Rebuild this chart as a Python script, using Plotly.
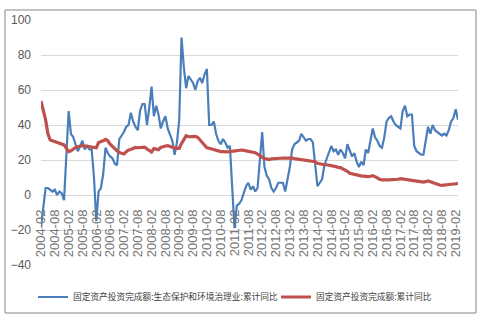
import plotly.graph_objects as go

# Monthly categories 2004-02 .. 2019-03
months = []
for yr in range(2004, 2020):
    for m in range(1, 13):
        if (yr == 2004 and m < 2) or (yr == 2019 and m > 3):
            continue
        months.append(f"{yr}-{m:02d}")

eco_env = [
    -18, -7, 4, 4, 3, 2, 3, 0, 2, 1, -3, 22,
    48, 35, 33, 29, 25, 28, 31, 26, 28, 26, 26, 10,
    -15, 2, 4, 12, 27, 24, 22, 21, 18, 17, 32, 34,
    36, 39, 40, 47, 42, 39, 37, 48, 52, 52, 40, 50,
    62, 45, 51, 46, 38, 42, 45, 38, 34, 31, 23, 30,
    43, 90, 73, 61, 68, 66, 64, 60, 65, 67, 64, 69,
    72, 40, 40, 42, 35, 31, 29, 32, 30, 27, 28, 4,
    -19, -6, -5, -3, 1, 5, 7, 3, 5, 2, 4, 20,
    36, 16, 11, 9, 4, 2, 4, 7, 7, 7, 2, 9,
    16, 26, 29, 30, 31, 35, 33, 31, 32, 32, 30, 16,
    5, 7, 9, 17, 21, 25, 28, 25, 26, 23, 26, 24,
    21, 29, 25, 22, 24, 19, 16, 19, 17, 26, 24, 30,
    38, 33, 31, 28, 27, 33, 42, 44, 45, 42, 40, 39,
    38, 48, 51, 45, 46, 46, 28, 25, 24, 23, 23, 30,
    39, 35, 40, 37, 36, 35, 34, 35, 34, 37, 42, 44,
    49, 43,
]

total = [
    53.7, 48.6, 42.9, 35.0, 31.4, 31.0, 30.5, 30.0, 29.5, 29.0, 28.6, 26.7,
    24.8, 25.3, 26.3, 27.2, 27.6, 28.0, 28.2, 28.0, 28.0, 27.6, 27.4, 27.0,
    27.0, 30.0, 30.3, 31.0, 31.8, 31.0, 29.0, 27.6, 26.5, 25.3, 24.2, 23.8,
    23.4, 24.8, 25.7, 26.0, 26.7, 27.2, 27.0, 27.0, 27.0, 27.4, 26.3, 25.3,
    24.6, 26.5, 26.0, 25.9, 27.2, 27.8, 28.0, 28.2, 27.6, 27.2, 26.9, 26.7,
    26.7, 29.5, 31.8, 33.9, 33.3, 33.5, 33.3, 33.5, 33.0, 31.4, 29.5, 28.0,
    27.0, 26.7, 26.3, 25.9, 25.3, 25.0, 24.8, 24.8, 24.6, 24.6, 24.8, 25.0,
    25.0, 25.3, 25.5, 25.7, 25.5, 25.3, 25.1, 25.0, 24.8, 24.2, 23.4, 22.3,
    21.5, 20.8, 20.4, 20.2, 20.6, 20.6, 20.6, 20.8, 21.0, 21.1, 21.1, 21.3,
    21.5, 21.1, 20.8, 20.6, 20.4, 20.2, 20.2, 20.2, 20.0, 19.8, 19.6, 19.0,
    18.1, 17.7, 17.5, 17.3, 17.3, 17.1, 16.8, 16.4, 16.2, 15.8, 15.7, 14.9,
    14.3, 13.5, 12.4, 12.0, 12.0, 11.6, 11.2, 10.9, 10.7, 10.5, 10.5, 10.7,
    11.0, 10.5, 9.6, 9.0, 8.6, 8.4, 8.6, 8.6, 8.6, 8.8, 8.6, 9.0,
    9.3, 9.1, 9.0, 8.8, 8.6, 8.4, 8.0, 7.8, 7.6, 7.4, 7.4, 7.6,
    8.0, 7.6, 7.0, 6.5, 6.1, 5.7, 5.5, 5.7, 6.1, 6.1, 6.3, 6.3,
    6.3, 6.7,
]

name_eco = "固定资产投资完成额:生态保护和环境治理业:累计同比"
name_total = "固定资产投资完成额:累计同比"

tick_labels = months[::6]

fig = go.Figure()
fig.add_trace(go.Scatter(x=months, y=eco_env, mode="lines", name=name_eco,
                         line=dict(color="#4A7EBB", width=2.2), legend="legend"))
fig.add_trace(go.Scatter(x=months, y=total, mode="lines", name=name_total,
                         line=dict(color="#C0504D", width=3.2), legend="legend2"))

W, H = 484, 324
ml, mr, mt, mb = 41, 26, 20, 59
pw, ph = W - ml - mr, H - mt - mb

def px_x(p):
    return (p - ml) / pw

def px_y(p):
    return (H - mb - p) / ph

ymin, ymax = -40, 100
legend_font = dict(family="Noto Sans CJK SC", size=8.7, color="#404040")

fig.update_layout(
    width=W, height=H,
    margin=dict(l=ml, r=mr, t=mt, b=mb),
    paper_bgcolor="white", plot_bgcolor="white",
    font=dict(family="Liberation Sans, Arial, sans-serif", color="#595959"),
    showlegend=True,
    legend=dict(orientation="h", x=px_x(33), xanchor="left",
                y=px_y(297), yanchor="middle", font=legend_font,
                bgcolor="rgba(0,0,0,0)", itemwidth=30),
    legend2=dict(orientation="h", x=px_x(276), xanchor="left",
                 y=px_y(297), yanchor="middle", font=legend_font,
                 bgcolor="rgba(0,0,0,0)", itemwidth=30),
    xaxis=dict(type="category", range=[0, len(months) - 1],
               tickmode="array", tickvals=tick_labels, ticktext=tick_labels,
               tickangle=-90, showgrid=False, showline=False, ticks="",
               anchor="free", position=(0 - ymin) / (ymax - ymin),
               ticklabelstandoff=11,
               tickfont=dict(family="Liberation Sans, Arial, sans-serif", size=13, color="#767676")),
    yaxis=dict(range=[ymin, ymax], dtick=20, tick0=0, showgrid=True,
               gridcolor="#D9D9D9", gridwidth=1, zeroline=False, showline=False,
               ticks="", ticklabelstandoff=9,
               tickfont=dict(family="Liberation Sans Narrow, Arial Narrow, Liberation Sans, sans-serif",
                             size=12, color="#595959")),
    shapes=[dict(type="rect", xref="paper", yref="paper",
                 x0=px_x(5), x1=px_x(476), y0=px_y(313), y1=px_y(10),
                 line=dict(color="#888888", width=1), fillcolor="rgba(0,0,0,0)",
                 layer="below")],
)

fig.write_html("out.html")
